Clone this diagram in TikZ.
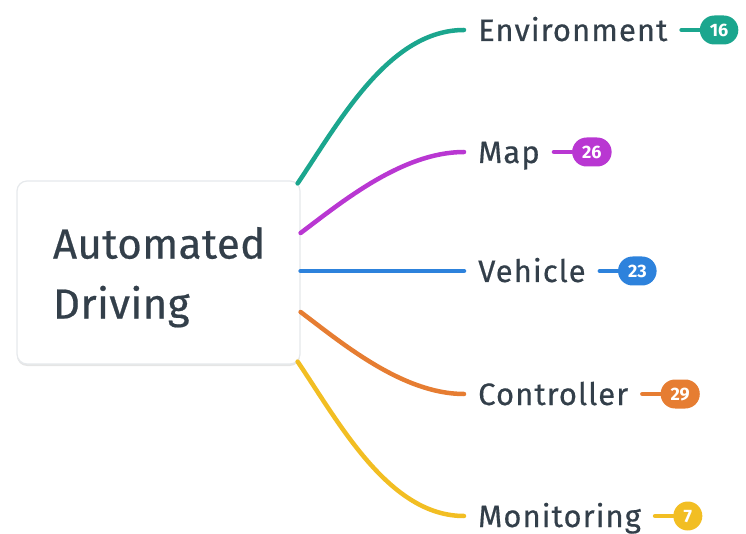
\documentclass[tikz,border=0pt]{standalone}
\usepackage{fontspec}
\setmainfont{Fira Sans}
\newfontfamily\medfont[FakeBold=0.5,LetterSpace=3.5]{Fira Sans}
\newfontfamily\rootfont[FakeBold=0.5,LetterSpace=1]{Fira Sans}
\usetikzlibrary{positioning,shadows}
\definecolor{txt}{HTML}{333F4A}
\definecolor{cteal}{HTML}{1BA68E}
\definecolor{cpurple}{HTML}{B937D2}
\definecolor{cblue}{HTML}{2D82DC}
\definecolor{corange}{HTML}{E67D32}
\definecolor{cyellow}{HTML}{F2BE23}
\definecolor{boxline}{HTML}{E6E9EC}
\tikzset{
  rootbox/.style={draw=boxline, line width=1.2pt, fill=white, rounded corners=10pt,
    minimum width=283pt, minimum height=183pt, text width=211pt, align=left,
    inner xsep=36pt, text=txt, font=\rootfont\fontsize{42}{60}\selectfont,
    drop shadow={shadow xshift=0pt, shadow yshift=-2pt, opacity=0.10, fill=black}},
  leaf/.style={anchor=base west, text=txt, font=\medfont\fontsize{31}{31}\selectfont,
    text height=22pt, text depth=0pt, inner ysep=0pt, inner xsep=14pt},
  badge/.style={fill=#1, text=white, font=\fontsize{18}{18}\bfseries\selectfont,
    rounded corners=14.5pt, minimum height=29pt, minimum width=29pt, inner xsep=10pt,
    inner ysep=0pt, text height=13pt, text depth=0pt},
  branch/.style={draw=#1, line width=4.5pt, line cap=round},
}
\begin{document}
\begin{tikzpicture}[x=1pt,y=-1pt]
\useasboundingbox (0,0) rectangle (746,534);
\node[rootbox] (root) at (158.5,272.5) {\rule{0pt}{41pt}Automated\\Driving};

\node[leaf] (env) at (464,41) {Environment};
\node[leaf] (map) at (464,163) {Map};
\node[leaf] (veh) at (464,282) {Vehicle};
\node[leaf] (con) at (464,405) {Controller};
\node[leaf] (mon) at (464,527) {Monitoring};

\node[badge=cteal, right=18pt of env] (benv) {16};
\node[badge=cpurple, right=18pt of map] (bmap) {26};
\node[badge=cblue, right=18pt of veh] (bveh) {23};
\node[badge=corange, right=18pt of con] (bcon) {29};
\node[badge=cyellow, right=18pt of mon] (bmon) {7};

\draw[branch=cteal] ([xshift=-3pt,yshift=-3pt]root.north east) .. controls +(42,-62) and +(-75,0) .. (env.west);
\draw[branch=cpurple] ([yshift=39.5pt]root.east) .. controls +(40,-30) and +(-62,0) .. (map.west);
\draw[branch=cblue] ([yshift=1.5pt]root.east) -- (veh.west);
\draw[branch=corange] ([yshift=-39.5pt]root.east) .. controls +(40,30) and +(-62,0) .. (con.west);
\draw[branch=cyellow] ([xshift=-3pt,yshift=3pt]root.south east) .. controls +(42,62) and +(-75,0) .. (mon.west);

\draw[branch=cteal] (env.east) -- (benv.west);
\draw[branch=cpurple] (map.east) -- (bmap.west);
\draw[branch=cblue] (veh.east) -- (bveh.west);
\draw[branch=corange] (con.east) -- (bcon.west);
\draw[branch=cyellow] (mon.east) -- (bmon.west);
\end{tikzpicture}
\end{document}
